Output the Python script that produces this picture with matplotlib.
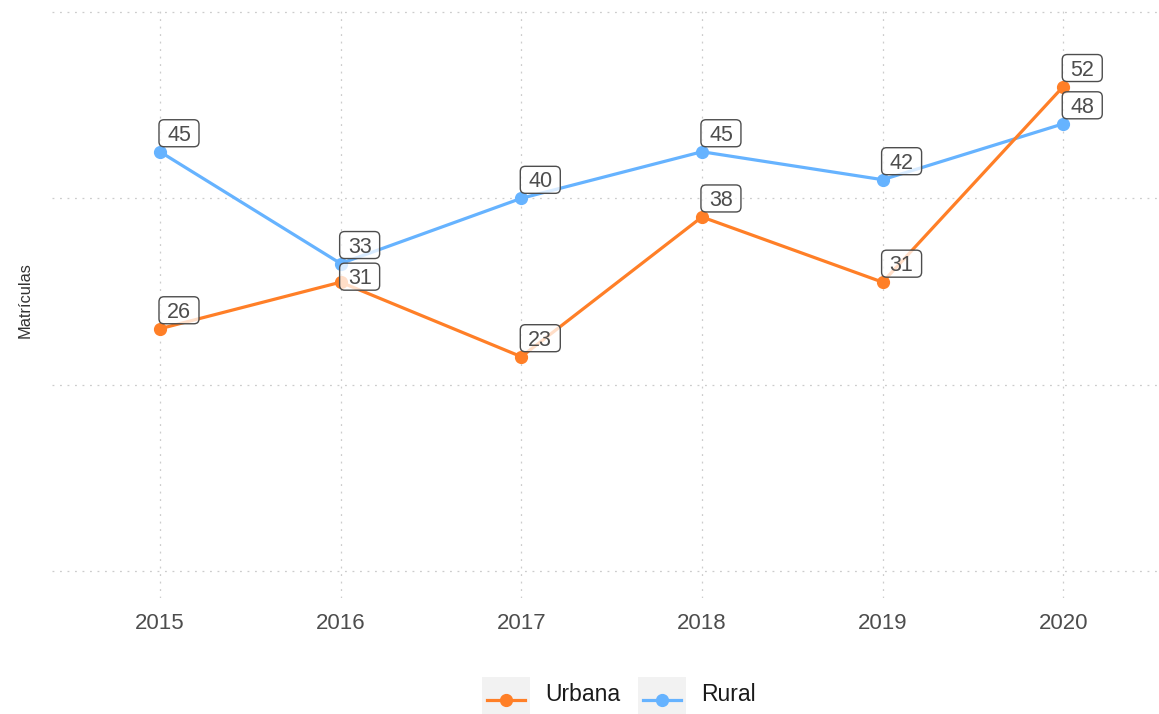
import numpy as np
import matplotlib.pyplot as plt
from matplotlib.patches import Rectangle, FancyBboxPatch
from matplotlib.lines import Line2D
from matplotlib.transforms import ScaledTranslation, IdentityTransform

plt.rcParams['font.family'] = ['Liberation Sans', 'DejaVu Sans']

# datos
anos = ['2015', '2016', '2017', '2018', '2019', '2020']
urbana = [26, 31, 23, 38, 31, 52]
rural = [45, 33, 40, 45, 42, 48]

col_urbana = '#FF7F27'
col_rural = '#66B3FF'
gris_texto = '#4D4D4D'

# desplazamiento vertical extra (px) de cada etiqueta para que no se pisen
ajuste_urbana = [0, -13, 0, 0, 0, 0]
ajuste_rural = [0, 0, 0, 0, 0, 0]

W, H = 1159, 714
fig = plt.figure(figsize=(W / 100, H / 100), dpi=100)
ax = fig.add_axes([51.6 / W, 1 - 598 / H, (W - 51.6) / W, (598 - 9.2) / H])

x = np.arange(len(anos))

# líneas: rural primero, urbana encima
ax.plot(x, rural, color=col_rural, lw=2.3, marker='o', markersize=8.5, zorder=3)
ax.plot(x, urbana, color=col_urbana, lw=2.3, marker='o', markersize=8.5, zorder=4)

ax.set_xlim(-0.6, 5.53)
ax.set_ylim(-2.9, 60.3)

# etiquetas con caja redondeada semitransparente, desplazadas en píxeles
for serie, ajuste in [(rural, ajuste_rural), (urbana, ajuste_urbana)]:
    for xi, v, dy in zip(x, serie, ajuste):
        tr = IdentityTransform() + ScaledTranslation(xi, v, ax.transData)
        caja = FancyBboxPatch((-1, 5 + dy), 40, 27, boxstyle='round,pad=0,rounding_size=5',
                              fc=(1, 1, 1, 0.75), ec=gris_texto, lw=1, transform=tr, zorder=6)
        ax.add_patch(caja)
        ax.text(19, 11 + dy, str(v), transform=tr, ha='center', va='baseline',
                fontsize=15.5, color=gris_texto, zorder=7)

ax.set_xticks(x)
ax.set_xticklabels(anos)
ax.set_yticks([0, 20, 40, 60])
ax.set_yticklabels([])
ax.tick_params(axis='x', length=0, pad=11, labelsize=16, labelcolor=gris_texto)
ax.tick_params(axis='y', length=0)
ax.grid(True, color='#CCCCCC', linestyle=(0, (1.5, 4.5)), lw=0.9)
ax.set_axisbelow(True)
for s in ax.spines.values():
    s.set_visible(False)

ax.set_ylabel('Matrículas', fontsize=11.8, color='#333333')
ax.yaxis.set_label_coords(-0.0168, 0.506)

# leyenda inferior
def fx(px):
    return px / W

def fy(py):
    return 1 - py / H

items = [('Urbana', col_urbana, 482, 545), ('Rural', col_rural, 638, 701)]
for nombre, col, kx, tx in items:
    fig.add_artist(Rectangle((fx(kx), fy(716)), 48 / W, 39 / H,
                             transform=fig.transFigure, fc='#F2F2F2', ec='none'))
    fig.add_artist(Line2D([fx(kx + 5), fx(kx + 43)], [fy(700), fy(700)],
                          transform=fig.transFigure, color=col, lw=2.3))
    fig.add_artist(Line2D([fx(kx + 24)], [fy(700)], transform=fig.transFigure,
                          color=col, marker='o', markersize=8.5, lw=0))
    fig.text(fx(tx), fy(701), nombre, fontsize=16.5, color='#1A1A1A',
             ha='left', va='baseline')

fig.savefig('out.png', dpi=100)
